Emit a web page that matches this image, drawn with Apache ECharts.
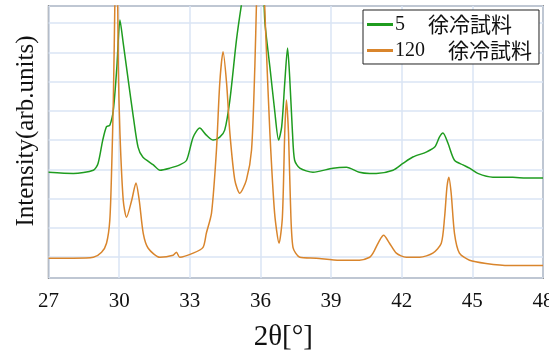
<!DOCTYPE html>
<html>
<head>
<meta charset="utf-8">
<script src="https://cdn.jsdelivr.net/npm/echarts/dist/echarts.min.js"></script>
<style>
  html, body { margin: 0; padding: 0; background: #fff; }
  #chart { width: 549px; height: 353px; }
</style>
</head>
<body>
<div id="chart"></div>
<script>
// 2θ positions and intensities
const xTicks = [27, 30, 33, 36, 39, 42, 45, 48]
const seriesNames = ['5\u3000徐冷試料', '120\u3000徐冷試料']

const greenTheta = [27, 28.05, 28.9, 29.1, 29.3, 29.46, 29.6, 29.75, 29.9, 30.03, 30.17, 30.4, 30.6, 30.8, 31.0, 31.45, 31.73, 32.15, 32.57, 32.86, 33.14, 33.42, 33.7, 33.99, 34.27, 34.48, 34.7, 34.98, 35.19, 35.5, 35.8, 36.0, 36.1, 36.18, 36.25, 36.4, 36.6, 36.77, 36.9, 37.03, 37.15, 37.24, 37.36, 37.45, 37.67, 38.23, 39.08, 39.65, 40.2, 40.64, 40.92, 41.63, 42.05, 42.47, 43.04, 43.4, 43.6, 43.75, 43.96, 44.24, 44.6, 44.88, 45.23, 45.87, 46.72, 47.28, 48]
const greenIntensity = [2.90, 2.86, 2.97, 3.20, 4.00, 4.46, 4.51, 5.03, 6.51, 8.11, 7.32, 5.95, 4.79, 3.76, 3.42, 3.15, 2.97, 3.04, 3.15, 3.31, 4.10, 4.41, 4.17, 4.00, 4.10, 4.34, 5.37, 7.43, 8.63, 10.2, 11.5, 11.8, 10.0, 8.11, 7.53, 6.50, 5.03, 4.00, 4.45, 5.95, 7.15, 6.16, 4.24, 3.31, 3.04, 2.90, 3.04, 3.07, 2.90, 2.86, 2.86, 2.97, 3.20, 3.42, 3.59, 3.76, 4.10, 4.24, 3.90, 3.31, 3.15, 3.04, 2.86, 2.73, 2.73, 2.70, 2.70]

const orangeTheta = [27, 28.05, 28.9, 29.25, 29.46, 29.6, 29.68, 29.75, 29.82, 29.88, 29.96, 30.03, 30.17, 30.31, 30.53, 30.71, 30.85, 31.02, 31.23, 31.73, 32.29, 32.43, 32.57, 33.14, 33.56, 33.7, 33.92, 34.13, 34.27, 34.41, 34.56, 34.7, 34.91, 35.12, 35.4, 35.62, 35.76, 35.83, 35.95, 36.05, 36.18, 36.25, 36.4, 36.6, 36.79, 36.93, 37.03, 37.1, 37.19, 37.27, 37.38, 37.67, 38.37, 39.36, 40.2, 40.64, 40.78, 41.06, 41.23, 41.48, 41.77, 42.19, 42.76, 43.32, 43.68, 43.82, 43.92, 44.0, 44.1, 44.24, 44.45, 44.88, 45.58, 46.57, 48]
const orangeIntensity = [-0.04, -0.04, -0.01, 0.16, 0.47, 1.26, 3.07, 5.37, 9.0, 13, 6.50, 4.24, 1.94, 1.36, 1.94, 2.53, 1.94, 0.81, 0.30, -0.01, 0.06, 0.16, -0.01, 0.13, 0.33, 0.81, 1.50, 3.66, 5.95, 7.02, 5.95, 4.24, 2.63, 2.18, 2.63, 3.66, 6.50, 8.70, 12, 12, 8.56, 7.09, 4.24, 1.50, 0.47, 1.36, 4.24, 5.37, 4.24, 1.94, 0.33, -0.01, -0.04, -0.11, -0.11, -0.01, 0.13, 0.57, 0.74, 0.47, 0.13, -0.01, -0.01, 0.13, 0.47, 1.36, 2.39, 2.73, 2.18, 0.81, 0.13, -0.11, -0.22, -0.29, -0.29]

const zip = (xs, ys) => xs.map((x, i) => [x, ys[i]])

const chart = echarts.init(document.getElementById('chart'))

const serif = "'Liberation Serif', 'Noto Sans CJK JP', serif"
const gridColor = '#dae5f5'

const option = {
  animation: false,
  grid: {
    left: 48.6,
    right: 6,
    top: 6,
    bottom: 75,
    outerBoundsMode: 'none',
    show: true,
    borderColor: '#444',
    borderWidth: 1.5,
    backgroundColor: '#fff'
  },
  legend: {
    orient: 'vertical',
    left: 363,
    top: 10,
    padding: [4, 7, 3, 4],
    itemGap: 5,
    itemWidth: 26,
    itemHeight: 3,
    icon: 'rect',
    backgroundColor: '#fff',
    borderColor: '#222',
    borderWidth: 1,
    borderRadius: 0,
    formatter: name => {
      const [num, label] = name.split('\u3000')
      return `{n|${num}}{c|${label}}`
    },
    textStyle: {
      color: '#111',
      padding: [0, 0, 0, -3],
      rich: {
        n: { fontFamily: serif, fontSize: 20, color: '#111' },
        c: { fontFamily: "'Noto Sans CJK JP', sans-serif", fontSize: 21, color: '#111', padding: [0, 0, 0, 23] }
      }
    },
    data: seriesNames
  },
  xAxis: {
    type: 'value',
    min: xTicks[0],
    max: xTicks[xTicks.length - 1],
    interval: 3,
    name: '2θ[°]',
    nameLocation: 'middle',
    nameGap: 45,
    nameTextStyle: {
      fontFamily: serif,
      fontSize: 29,
      color: '#111',
      padding: [0, 25, 0, 0]
    },
    axisLine: { show: false },
    axisTick: { show: false },
    axisLabel: {
      margin: 13,
      fontFamily: serif,
      fontSize: 21,
      color: '#111'
    },
    splitLine: { show: true, lineStyle: { color: gridColor, width: 1.5 } }
  },
  yAxis: {
    type: 'value',
    min: -0.72,
    max: 8.59,
    splitNumber: 9,
    name: 'Intensity(arb.units)',
    nameLocation: 'middle',
    nameGap: 10,
    nameTextStyle: {
      fontFamily: serif,
      fontSize: 25,
      color: '#111',
      padding: [0, 0, 0, 22]
    },
    axisLine: { show: false },
    axisTick: { show: false },
    axisLabel: { show: false },
    splitLine: { show: true, lineStyle: { color: gridColor, width: 1.5 } }
  },
  series: [
    {
      name: seriesNames[0],
      type: 'line',
      symbol: 'none',
      smooth: 0.25,
      data: zip(greenTheta, greenIntensity),
      itemStyle: { color: '#1f9c1f' },
      lineStyle: { color: '#1f9c1f', width: 1.5 }
    },
    {
      name: seriesNames[1],
      type: 'line',
      symbol: 'none',
      smooth: 0.25,
      data: zip(orangeTheta, orangeIntensity),
      itemStyle: { color: '#d9852c' },
      lineStyle: { color: '#d9852c', width: 1.5 }
    }
  ]
}

chart.setOption(option)
</script>
</body>
</html>
